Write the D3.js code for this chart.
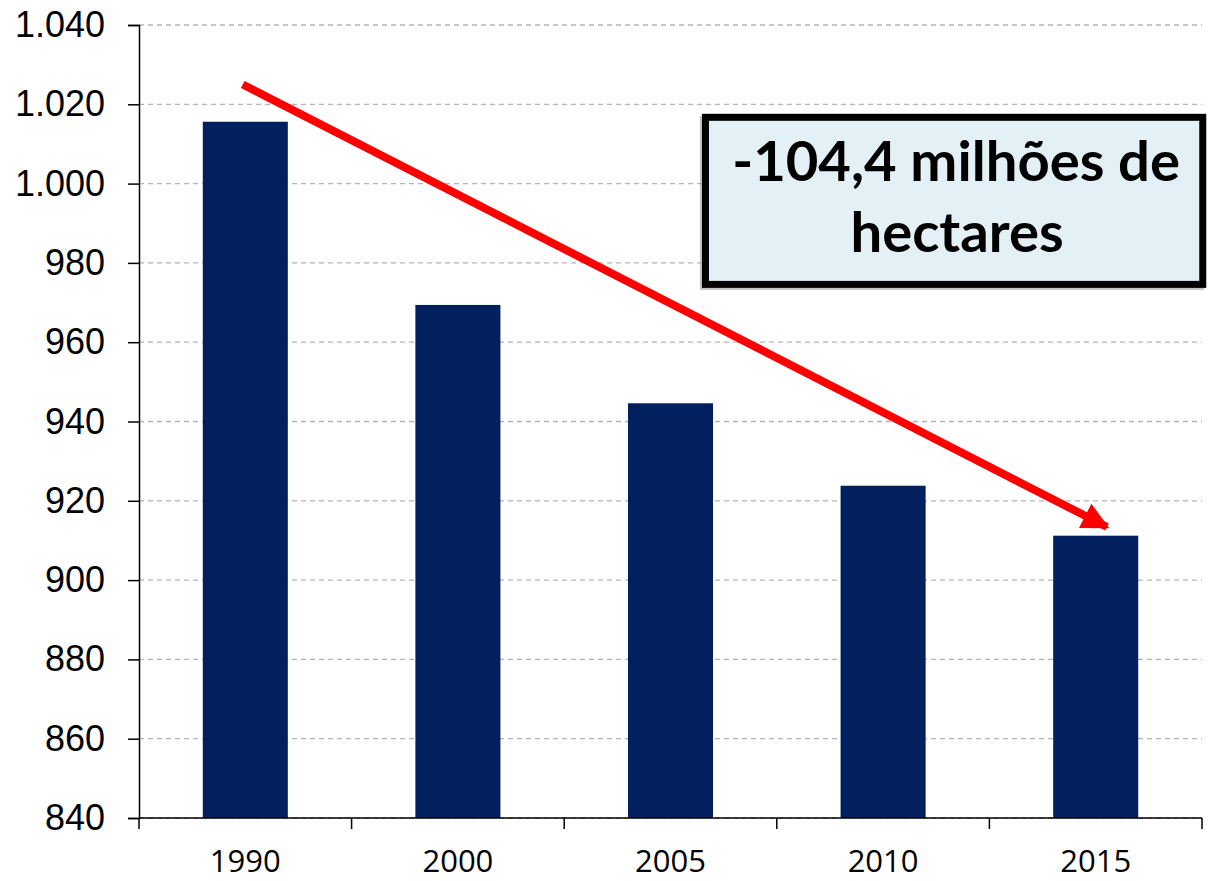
<!DOCTYPE html>
<html>
<head>
<meta charset="utf-8">
<script src="https://cdn.jsdelivr.net/npm/d3@7"></script>
<style>
  html, body { margin: 0; padding: 0; background: #fff; }
  svg { display: block; }
</style>
</head>
<body>
<svg id="chart" width="1210" height="881"></svg>
<script>
// ---- data ----
const years = ["1990", "2000", "2005", "2010", "2015"];
const forestArea = [1015.6, 969.4, 944.6, 923.8, 911.2];
const yTicks = [840, 860, 880, 900, 920, 940, 960, 980, 1000, 1020, 1040];
const annotationLines = ["-104,4 milhões de", "hectares"];
// arrow endpoints in data space: [category index position, value]
const arrowPoints = [[-0.012, 1025.0], [4.053, 913.4]];
// annotation box extent in data space
const boxIndex = [2.148, 4.52];
const boxValue = [1017.6, 973.7];

(function () {
// ---- layout ----
const svg = d3.select("#chart");
const pLeft = 139, pRight = 1202, pTop = 25, pBottom = 818;

const x = d3.scaleBand().domain(years).range([pLeft, pRight])
  .paddingInner(0.6).paddingOuter(0.3);
const y = d3.scaleLinear().domain([840, 1040]).range([pBottom, pTop]);
const xi = d3.scaleLinear().domain([0, years.length - 1])
  .range([x(years[0]) + x.bandwidth() / 2, x(years[years.length - 1]) + x.bandwidth() / 2]);

const pt = d3.formatLocale({ decimal: ",", thousands: ".", grouping: [3], currency: ["", ""] });
const fmt = pt.format(",.0f");

// gridlines
svg.append("g").selectAll("line").data(yTicks).join("line")
  .attr("x1", pLeft).attr("x2", pRight)
  .attr("y1", d => y(d)).attr("y2", d => y(d))
  .attr("stroke", "#b4b4b4").attr("stroke-width", 1.3)
  .attr("stroke-dasharray", "5,4");

// bars
svg.append("g").selectAll("rect").data(years).join("rect")
  .attr("x", d => x(d))
  .attr("width", x.bandwidth())
  .attr("y", (d, i) => y(forestArea[i]))
  .attr("height", (d, i) => y(840) - y(forestArea[i]))
  .attr("fill", "#022060");

// y axis
const yAxis = svg.append("g").attr("transform", `translate(${pLeft},0)`)
  .call(d3.axisLeft(y).tickValues(yTicks).tickFormat(fmt).tickSize(11).tickPadding(23));
yAxis.selectAll("text").attr("font-family", "'Liberation Sans', Arial, sans-serif")
  .attr("font-size", 36).attr("fill", "#000");
yAxis.selectAll("line, path").attr("stroke", "#000").attr("stroke-width", 1.5);

// x axis (ticks at band boundaries)
const xg = svg.append("g");
xg.append("line").attr("x1", pLeft).attr("x2", pRight)
  .attr("y1", pBottom).attr("y2", pBottom).attr("stroke", "#000").attr("stroke-width", 1.5);
const boundaries = years.map(d => x(d) - x.step() * x.paddingInner() / 2);
boundaries.push(pRight);
boundaries[0] = pLeft;
xg.selectAll("line.tick").data(boundaries).join("line").attr("class", "tick")
  .attr("x1", d => d).attr("x2", d => d)
  .attr("y1", pBottom).attr("y2", pBottom + 11)
  .attr("stroke", "#000").attr("stroke-width", 1.5);
xg.selectAll("text").data(years).join("text")
  .attr("x", d => x(d) + x.bandwidth() / 2)
  .attr("y", 872)
  .attr("text-anchor", "middle")
  .attr("font-family", "'Open Sans', sans-serif")
  .attr("font-size", 31)
  .attr("fill", "#000")
  .text(d => d);

// arrow
const defs = svg.append("defs");
defs.append("marker").attr("id", "ah")
  .attr("viewBox", "0 0 10 10").attr("refX", 9).attr("refY", 5)
  .attr("markerWidth", 3.8).attr("markerHeight", 3.4)
  .attr("markerUnits", "strokeWidth")
  .attr("orient", "auto")
  .append("path").attr("d", "M0,0 L10,5 L0,10 Z").attr("fill", "#ff0000");
svg.append("line")
  .attr("x1", xi(arrowPoints[0][0])).attr("y1", y(arrowPoints[0][1]))
  .attr("x2", xi(arrowPoints[1][0])).attr("y2", y(arrowPoints[1][1]))
  .attr("stroke", "#ff0000").attr("stroke-width", 8)
  .attr("marker-end", "url(#ah)");

// annotation box
const bx0 = xi(boxIndex[0]), bx1 = xi(boxIndex[1]);
const by0 = y(boxValue[0]), by1 = y(boxValue[1]);
svg.append("rect")
  .attr("x", bx0 + 1.5).attr("y", by0 + 5.5)
  .attr("width", bx1 - bx0 - 7).attr("height", by1 - by0 - 7)
  .attr("fill", "none").attr("stroke", "#9a9a9a").attr("stroke-width", 7).attr("opacity", 0.6);
svg.append("rect")
  .attr("x", bx0 + 3.5).attr("y", by0 + 3.5)
  .attr("width", bx1 - bx0 - 7).attr("height", by1 - by0 - 7)
  .attr("fill", "#e3f1f6").attr("stroke", "#000").attr("stroke-width", 7);
const cx = (bx0 + bx1) / 2;
const t1 = svg.append("text").attr("x", cx + 2).attr("y", 181)
  .attr("text-anchor", "middle")
  .attr("font-family", "Lato, 'Open Sans', sans-serif")
  .attr("font-weight", "bold").attr("font-size", 60).attr("fill", "#000")
  .text(annotationLines[0]);
const w = t1.node().getComputedTextLength();
const fs = 60 * 448 / w;
t1.attr("font-size", fs);
svg.append("text").attr("x", cx + 3).attr("y", 252)
  .attr("text-anchor", "middle")
  .attr("font-family", "Lato, 'Open Sans', sans-serif")
  .attr("font-weight", "bold").attr("font-size", fs).attr("fill", "#000")
  .text(annotationLines[1]);
})();
</script>
</body>
</html>
